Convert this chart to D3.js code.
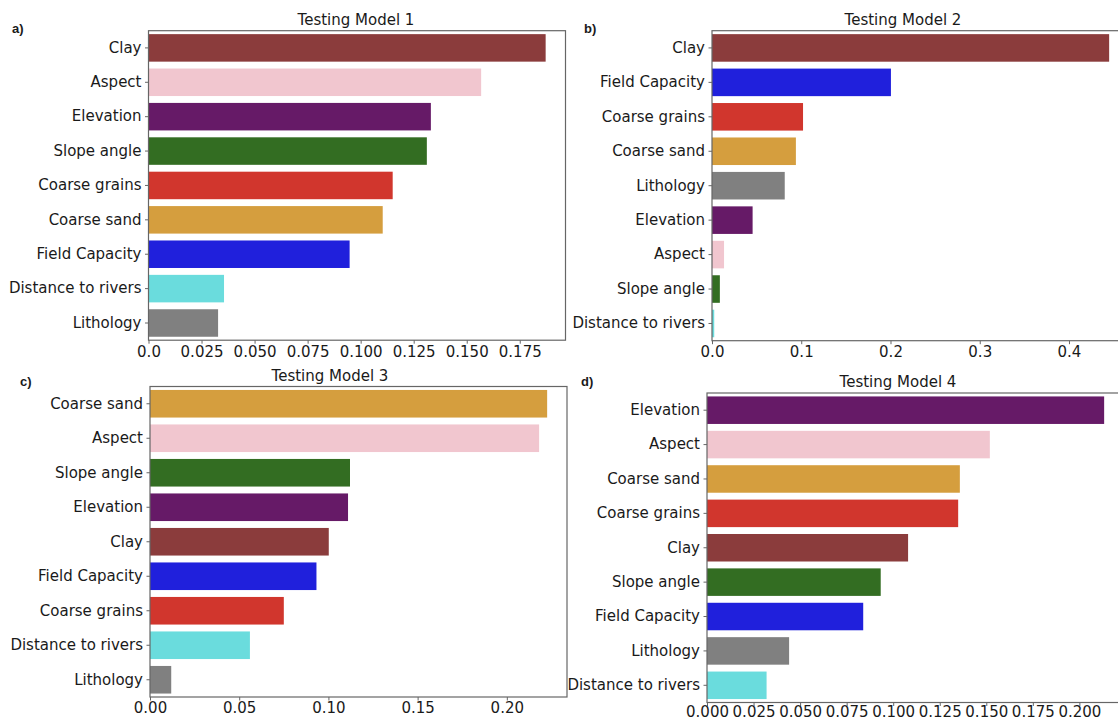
<!DOCTYPE html>
<html>
<head>
<meta charset="utf-8">
<script src="https://cdn.jsdelivr.net/npm/d3@7"></script>
<style>
  body { margin: 0; background: #fff; }
  text { font-family: "DejaVu Sans", sans-serif; fill: #1a1a1a; }
</style>
</head>
<body>
<div id="chart"></div>
<script>
// feature importances
const model1Features = ["Clay", "Aspect", "Elevation", "Slope angle", "Coarse grains", "Coarse sand", "Field Capacity", "Distance to rivers", "Lithology"];
const model1Values = [0.1872, 0.1568, 0.1331, 0.1312, 0.1151, 0.1104, 0.0948, 0.0356, 0.0328];
const model1Ticks = [0, 0.025, 0.05, 0.075, 0.1, 0.125, 0.15, 0.175];

const model2Features = ["Clay", "Field Capacity", "Coarse grains", "Coarse sand", "Lithology", "Elevation", "Aspect", "Slope angle", "Distance to rivers"];
const model2Values = [0.445, 0.2005, 0.102, 0.094, 0.0815, 0.0455, 0.0135, 0.0088, 0.0025];
const model2Ticks = [0, 0.1, 0.2, 0.3, 0.4];

const model3Features = ["Coarse sand", "Aspect", "Slope angle", "Elevation", "Clay", "Field Capacity", "Coarse grains", "Distance to rivers", "Lithology"];
const model3Values = [0.2226, 0.2181, 0.1121, 0.111, 0.1002, 0.0933, 0.075, 0.056, 0.0119];
const model3Ticks = [0, 0.05, 0.1, 0.15, 0.2];

const model4Features = ["Elevation", "Aspect", "Coarse sand", "Coarse grains", "Clay", "Slope angle", "Field Capacity", "Lithology", "Distance to rivers"];
const model4Values = [0.2133, 0.1519, 0.1358, 0.1349, 0.108, 0.0933, 0.0839, 0.0441, 0.032];
const model4Ticks = [0, 0.025, 0.05, 0.075, 0.1, 0.125, 0.15, 0.175, 0.2];

const featureColors = {
  "Clay": "#8b3c3c",
  "Aspect": "#f1c6cf",
  "Elevation": "#661a67",
  "Slope angle": "#336d22",
  "Coarse grains": "#d1362d",
  "Coarse sand": "#d59e3e",
  "Field Capacity": "#2020dc",
  "Distance to rivers": "#6adcdd",
  "Lithology": "#808080",
};

const panels = [
  { tag: "a)", title: "Testing Model 1", features: model1Features, values: model1Values, ticks: model1Ticks,
    fmt: d => d === 0 ? "0.0" : d3.format(".3f")(d), pad: 2.5,
    left: 148.5, top: 30.7, w: 417, h: 309.5, titleX: 356, titleY: 25, tagX: 12, tagY: 33 },
  { tag: "b)", title: "Testing Model 2", features: model2Features, values: model2Values, ticks: model2Ticks,
    fmt: d3.format(".1f"), pad: 2.5,
    left: 712, top: 30.7, w: 417, h: 310, titleX: 903, titleY: 25, tagX: 584, tagY: 33 },
  { tag: "c)", title: "Testing Model 3", features: model3Features, values: model3Values, ticks: model3Ticks,
    fmt: d3.format(".2f"), pad: 1.5,
    left: 150, top: 386.5, w: 417, h: 310.5, titleX: 330, titleY: 381, tagX: 20, tagY: 386 },
  { tag: "d)", title: "Testing Model 4", features: model4Features, values: model4Values, ticks: model4Ticks,
    fmt: d3.format(".3f"), pad: 0,
    left: 707, top: 393, w: 417, h: 309.5, titleX: 898, titleY: 387, tagX: 581, tagY: 386 },
];

const svg = d3.select("#chart").append("svg")
  .attr("width", 1118)
  .attr("height", 722);

const drawPanel = (p) => {
  const x = d3.scaleLinear()
    .domain([0, d3.max(p.values) * 1.05])
    .range([0, p.w]);

  const y = d3.scaleBand()
    .domain(p.features)
    .range([0, p.h])
    .paddingInner(0.2)
    .paddingOuter(0.1);

  const g = svg.append("g")
    .attr("transform", `translate(${p.left},${p.top})`);

  g.selectAll(".bar")
    .data(p.features.map((f, i) => ({ f, v: p.values[i] })))
    .enter()
    .append("rect")
    .attr("class", "bar")
    .attr("x", 0)
    .attr("y", d => y(d.f))
    .attr("width", d => x(d.v))
    .attr("height", y.bandwidth())
    .attr("fill", d => featureColors[d.f]);

  // frame
  g.append("rect")
    .attr("width", p.w)
    .attr("height", p.h)
    .attr("fill", "none")
    .attr("stroke", "#666")
    .attr("stroke-width", 1.2);

  const xAxis = g.append("g")
    .attr("transform", `translate(0,${p.h})`)
    .call(d3.axisBottom(x).tickValues(p.ticks).tickFormat(p.fmt).tickSize(3.5).tickPadding(p.pad));
  xAxis.select(".domain").remove();
  xAxis.selectAll("line").attr("stroke", "#666");
  xAxis.selectAll("text")
    .style("font-size", "15px")
    .style("font-family", "DejaVu Sans, sans-serif")
    .attr("fill", "#1a1a1a");

  const yAxis = g.append("g")
    .call(d3.axisLeft(y).tickSize(3.5).tickPadding(3.5));
  yAxis.select(".domain").remove();
  yAxis.selectAll("line").attr("stroke", "#666");
  yAxis.selectAll("text")
    .style("font-size", "15px")
    .style("font-family", "DejaVu Sans, sans-serif")
    .attr("fill", "#1a1a1a");

  svg.append("text")
    .attr("x", p.titleX)
    .attr("y", p.titleY)
    .attr("text-anchor", "middle")
    .style("font-size", "15px")
    .text(p.title);

  svg.append("text")
    .attr("x", p.tagX)
    .attr("y", p.tagY)
    .style("font-family", "Liberation Sans, Arial, sans-serif")
    .style("font-weight", "bold")
    .style("font-size", "13px")
    .text(p.tag);
};

panels.forEach(drawPanel);
</script>
</body>
</html>
